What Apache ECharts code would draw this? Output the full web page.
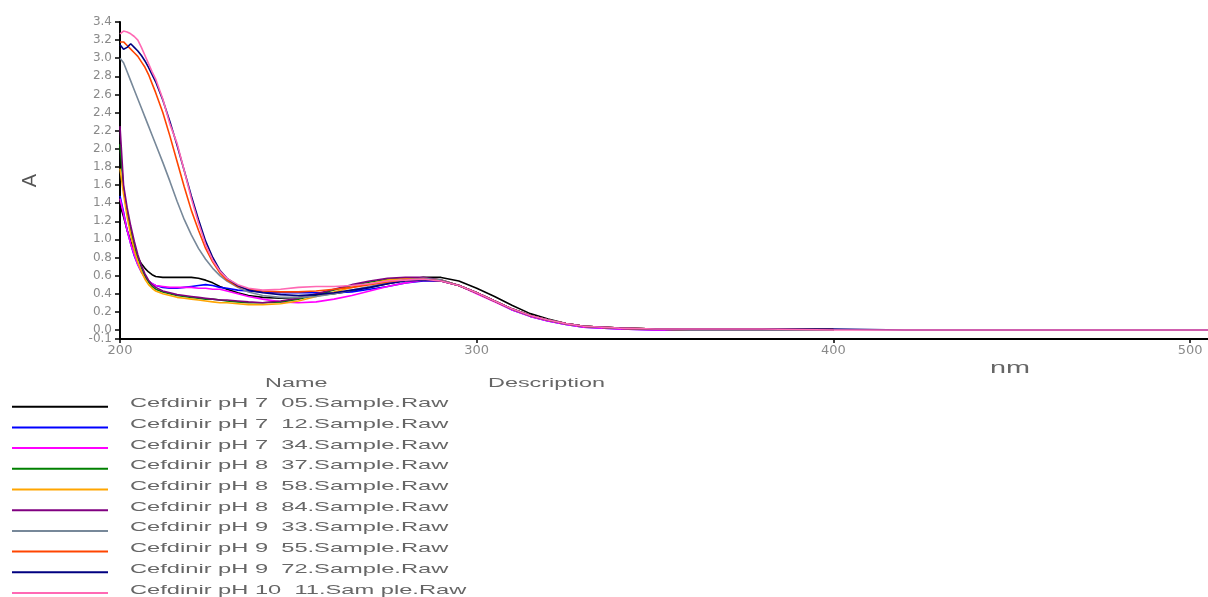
<!DOCTYPE html>
<html>
<head>
<meta charset="utf-8">
<script src="https://cdn.jsdelivr.net/npm/echarts@6/dist/echarts.min.js"></script>
<style>
html,body{margin:0;padding:0;background:#fff;}
#chart{width:1208px;height:597px;}
</style>
</head>
<body>
<div id="chart"></div>
<script>
// wavelengths (nm)
const wl = [200,201,202,203,204,205,206,207,208,209,
            210,212,214,216,218,220,222,224,226,228,
            230,233,236,240,245,250,255,260,265,270,
            275,280,285,290,295,300,305,310,315,320,
            325,330,340,350,360,380,400];
const wlTail = [420,440,460,480,500,505];

const seriesNames = [
  'Cefdinir pH 7  05.Sample.Raw',
  'Cefdinir pH 7  12.Sample.Raw',
  'Cefdinir pH 7  34.Sample.Raw',
  'Cefdinir pH 8  37.Sample.Raw',
  'Cefdinir pH 8  58.Sample.Raw',
  'Cefdinir pH 8  84.Sample.Raw',
  'Cefdinir pH 9  33.Sample.Raw',
  'Cefdinir pH 9  55.Sample.Raw',
  'Cefdinir pH 9  72.Sample.Raw',
  'Cefdinir pH 10  11.Sam ple.Raw'
];

const pH7_05 = [1.38,1.25,1.10,0.98,0.88,0.80,0.73,0.68,0.64,0.61,
  0.59,0.58,0.58,0.58,0.58,0.58,0.57,0.55,0.52,0.48,
  0.45,0.41,0.38,0.36,0.35,0.36,0.38,0.40,0.43,0.47,
  0.51,0.55,0.58,0.58,0.54,0.46,0.37,0.27,0.18,0.12,
  0.07,0.04,0.02,0.01,0.00,0.00,0.00];
const pH7_12 = [1.48,1.30,1.10,0.95,0.82,0.72,0.64,0.58,0.54,0.51,
  0.49,0.47,0.46,0.46,0.47,0.48,0.49,0.50,0.49,0.47,
  0.46,0.44,0.43,0.42,0.41,0.41,0.41,0.41,0.42,0.45,
  0.48,0.52,0.54,0.54,0.49,0.41,0.32,0.22,0.15,0.10,
  0.06,0.03,0.01,0.00,0.00,0.00,0.00];
const pH7_34 = [1.45,1.28,1.10,0.95,0.83,0.72,0.64,0.58,0.54,0.51,
  0.49,0.48,0.47,0.47,0.47,0.47,0.46,0.46,0.45,0.45,
  0.43,0.40,0.37,0.34,0.31,0.30,0.31,0.34,0.38,0.43,
  0.48,0.52,0.55,0.54,0.49,0.40,0.31,0.22,0.15,0.10,
  0.06,0.03,0.01,0.00,0.00,0.00,0.00];
const pH8_37 = [2.05,1.55,1.30,1.10,0.93,0.80,0.69,0.60,0.53,0.48,
  0.45,0.42,0.40,0.38,0.37,0.36,0.35,0.34,0.34,0.33,
  0.32,0.31,0.30,0.30,0.31,0.34,0.39,0.44,0.49,0.53,
  0.56,0.57,0.57,0.55,0.49,0.41,0.32,0.23,0.16,0.11,
  0.07,0.04,0.02,0.01,0.00,0.00,0.00];
const pH8_58 = [1.78,1.50,1.25,1.05,0.88,0.75,0.64,0.56,0.50,0.46,
  0.43,0.40,0.38,0.36,0.35,0.34,0.33,0.32,0.31,0.30,
  0.30,0.29,0.28,0.28,0.29,0.32,0.37,0.42,0.47,0.51,
  0.55,0.57,0.57,0.55,0.49,0.41,0.32,0.23,0.16,0.11,
  0.07,0.04,0.02,0.01,0.00,0.00,0.00];
const pH8_84 = [2.25,1.60,1.35,1.15,0.98,0.83,0.71,0.62,0.55,0.50,
  0.47,0.43,0.41,0.39,0.38,0.37,0.36,0.35,0.34,0.33,
  0.33,0.32,0.31,0.30,0.32,0.35,0.40,0.45,0.50,0.54,
  0.57,0.58,0.58,0.55,0.49,0.41,0.32,0.23,0.16,0.11,
  0.07,0.04,0.02,0.01,0.00,0.00,0.00];
const pH9_33 = [3.00,2.95,2.85,2.75,2.65,2.55,2.45,2.35,2.25,2.15,
  2.05,1.85,1.64,1.42,1.22,1.05,0.90,0.78,0.68,0.60,
  0.54,0.47,0.42,0.38,0.36,0.36,0.37,0.40,0.44,0.48,
  0.52,0.55,0.57,0.55,0.49,0.41,0.32,0.23,0.16,0.11,
  0.07,0.04,0.02,0.01,0.00,0.00,0.00];
const pH9_55 = [3.18,3.18,3.14,3.10,3.06,3.02,2.96,2.90,2.82,2.72,
  2.62,2.40,2.14,1.86,1.58,1.32,1.10,0.90,0.75,0.63,
  0.55,0.48,0.45,0.43,0.42,0.42,0.43,0.45,0.47,0.50,
  0.53,0.55,0.56,0.54,0.49,0.41,0.32,0.23,0.16,0.11,
  0.07,0.04,0.02,0.01,0.01,0.01,0.01];
const pH9_72 = [3.15,3.10,3.12,3.16,3.12,3.08,3.03,2.97,2.90,2.82,
  2.74,2.54,2.30,2.04,1.76,1.48,1.22,0.98,0.80,0.66,
  0.57,0.49,0.44,0.41,0.39,0.38,0.39,0.41,0.44,0.47,
  0.51,0.54,0.55,0.54,0.49,0.41,0.32,0.23,0.16,0.11,
  0.07,0.04,0.02,0.01,0.01,0.01,0.01];
const pH9_72_tail = [0.00,0.00,0.00,0.00,0.00,0.00];
const pH10_11 = [3.27,3.30,3.29,3.27,3.24,3.20,3.12,3.03,2.94,2.85,
  2.77,2.55,2.27,2.06,1.76,1.45,1.18,0.94,0.77,0.65,
  0.57,0.50,0.46,0.44,0.45,0.47,0.48,0.48,0.49,0.51,
  0.54,0.55,0.56,0.54,0.49,0.41,0.32,0.23,0.16,0.11,
  0.07,0.04,0.02,0.01,0.01,0.01,0.00];
const pH10_11_tail = [0.00,0.00,0.00,0.00,0.00,0.00];

// tick labels
const xTicks = [200,300,400,500];
const yTicks = [-0.1,0.0,0.2,0.4,0.6,0.8,1.0,1.2,1.4,1.6,1.8,2.0,2.2,2.4,2.6,2.8,3.0,3.2,3.4];
const yMinTick = [-0.1];
const yMainLabels = yTicks.filter(v => yMinTick.indexOf(v) < 0);

const seriesValues = [pH7_05,pH7_12,pH7_34,pH8_37,pH8_58,pH8_84,pH9_33,pH9_55,
  pH9_72.concat(pH9_72_tail), pH10_11.concat(pH10_11_tail)];
const seriesX = [wl,wl,wl,wl,wl,wl,wl,wl,wl.concat(wlTail),wl.concat(wlTail)];

const colors = ['#000000','#0000ff','#ff00ff','#008000','#ffa500','#800080',
                '#778899','#ff4500','#000080','#ff69b4'];

const chart = echarts.init(document.getElementById('chart'), null, {renderer:'canvas'});

const series = seriesNames.map((name,i)=>({
  name: name,
  type: 'line',
  symbol: 'none',
  showSymbol: false,
  animation: false,
  yAxisIndex: 0,
  lineStyle: {color: colors[i], width: 1.6},
  itemStyle: {color: colors[i]},
  data: seriesX[i].map((x,j)=>[x, seriesValues[i][j]])
}));

const graphic = [];
const labelFont = '13px "Liberation Sans", Arial, sans-serif';
seriesNames.forEach((name,i)=>{
  const y = 406.7 + i*20.7;
  graphic.push({type:'line', shape:{x1:12,y1:y,x2:108,y2:y},
    style:{stroke:colors[i], lineWidth:2}, silent:true});
  graphic.push({type:'text', x:130, y:y-3, scaleX:1.82,
    style:{text:name, fill:'#666', font:labelFont, verticalAlign:'middle'}});
});
graphic.push({type:'text', x:265, y:383, scaleX:1.8,
  style:{text:'Name', fill:'#666', font:labelFont, verticalAlign:'middle'}});
graphic.push({type:'text', x:488, y:383, scaleX:1.8,
  style:{text:'Description', fill:'#666', font:labelFont, verticalAlign:'middle'}});
graphic.push({type:'text', x:990, y:369, scaleX:1.8,
  style:{text:'nm', fill:'#666', font:'16px "Liberation Sans", Arial, sans-serif', verticalAlign:'middle'}});

const yLabelStyle = {color:'#8a8a8a', fontSize:12, fontFamily:'DejaVu Sans', margin:8,
  formatter:(v)=> v.toFixed(1)};

chart.setOption({
  animation: false,
  backgroundColor: '#ffffff',
  grid: {left:120, right:0, top:22, bottom:258, containLabel:false},
  xAxis: {
    type:'value', min:200, max:505,
    axisLine:{show:true, onZero:false, lineStyle:{color:'#000', width:2}},
    axisTick:{show:true, length:4, customValues:xTicks, lineStyle:{color:'#000', width:1.5}},
    axisLabel:{
      color:'#8a8a8a', fontSize:13, fontFamily:'DejaVu Sans', margin:5,
      customValues:xTicks, hideOverlap:false,
      formatter:(v)=> String(v)
    },
    splitLine:{show:false}
  },
  yAxis: [{
    type:'value', min:-0.1, max:3.4, position:'left',
    name:'A', nameLocation:'middle', nameRotate:90, nameGap:80,
    nameTextStyle:{color:'#555', fontSize:20, fontFamily:'Liberation Sans'},
    axisLine:{show:true, onZero:false, lineStyle:{color:'#000', width:2}},
    axisTick:{show:true, length:5, customValues:yTicks, lineStyle:{color:'#000', width:1.5}},
    axisLabel:Object.assign({customValues:yMainLabels}, yLabelStyle),
    splitLine:{show:false}
  }, {
    type:'value', min:-0.1, max:3.4, position:'left', offset:0,
    axisLine:{show:false}, axisTick:{show:false}, splitLine:{show:false},
    axisLabel:Object.assign({customValues:yMinTick, showMinLabel:true}, yLabelStyle)
  }],
  series: series,
  graphic: graphic
});
</script>
</body>
</html>
